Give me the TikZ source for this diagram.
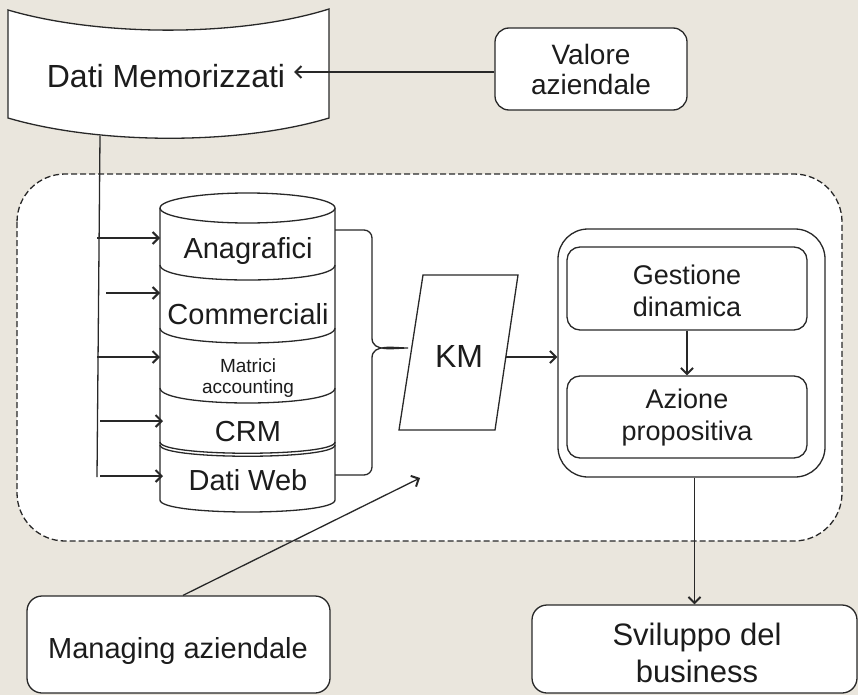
\documentclass[tikz,border=0pt]{standalone}
\usepackage{fontspec}
\setmainfont{Liberation Sans}
\usetikzlibrary{arrows.meta}
\definecolor{bg}{RGB}{234,230,221}
\definecolor{ln}{RGB}{40,40,40}
\definecolor{tx}{RGB}{28,28,28}
\begin{document}
\begin{tikzpicture}[x=1pt,y=-1pt,line width=1.3pt,
  lbl/.style={text=tx,inner sep=0pt,align=center,anchor=base},
  fA/.style={font=\fontsize{29}{33}\selectfont},
  fB/.style={font=\fontsize{32}{36}\selectfont},
  fC/.style={font=\fontsize{27}{32}\selectfont},
  fS/.style={font=\fontsize{19}{21}\selectfont},
  arr/.style={draw=ln,line width=1.3pt,-{Straight Barb[length=6pt,width=12pt,line width=2pt]}},
  shp/.style={draw=ln,fill=white,line width=1.3pt},
  rbox/.style={shp,rounded corners=14pt,inner sep=0pt}]
\path[fill=bg] (0,0) rectangle (858,695);
\useasboundingbox (0,0) rectangle (858,695);

% dashed region
\draw[draw=ln,fill=white,line width=1.3pt,dash pattern=on 6pt off 3pt,rounded corners=48pt] (17,174) rectangle (842,541);

% top storage shape
\draw[shp] (8,10) .. controls (100,37) and (240,37) .. (329,9) -- (329,118)
  .. controls (240,145) and (100,145) .. (8,118) -- cycle;
\node[lbl,fB] (dm) at (166,88) {Dati Memorizzati};
\coordinate (dmin) at (294,72);

% Valore aziendale
\node[rbox,minimum width=192pt,minimum height=82pt] (va) at (591,69) {};
\node[lbl,font=\fontsize{28}{30}\selectfont] (vat) at (591,95) {Valore\\aziendale};
\draw[arr] (va.west |- dmin) -- (dmin);

% stacked cylinder
\draw[shp] (160,208) -- (160,500) .. controls (160,516) and (335,516) .. (335,500) -- (335,208);
\draw[shp] (247.5,208) ellipse [x radius=87.5pt, y radius=15pt];
\foreach \yy in {265,328,388} {
  \draw[draw=ln] (160,\yy) .. controls (160,\yy+20) and (335,\yy+20) .. (335,\yy);
}
\draw[draw=ln] (160,442) .. controls (160,457) and (335,457) .. (335,442);
\draw[draw=ln] (160,445) .. controls (160,460) and (335,460) .. (335,445);
\node[lbl,fA] (ana) at (248,258) {Anagrafici};
\node[lbl,fA] (com) at (248,324) {Commerciali};
\node[lbl,fS] (mat) at (248,393) {Matrici\\accounting};
\node[lbl,fA] (crm) at (248,441) {CRM};
\node[lbl,fA] (web) at (248,490) {Dati Web};

% feeder line and arrows
\coordinate (vtop) at (100,136);
\coordinate (vbot) at (97,477);
\draw[draw=ln] (vtop) -- (vbot);
\coordinate (s1) at (97,238);  \coordinate (e1) at (160,238);
\coordinate (s2) at (106,293); \coordinate (e2) at (160,293);
\coordinate (s3) at (97,357);  \coordinate (e3) at (160,357);
\coordinate (s4) at (100,421); \coordinate (e4) at (163,421);
\coordinate (s5) at (100,476); \coordinate (e5) at (163,476);
\foreach \i in {1,...,5} { \draw[arr] (s\i) -- (e\i); }

% brace
\draw[draw=ln] (335,230) -- (364,230) to[out=0,in=90] (372,238) -- (372,338)
  to[out=-90,in=180] (408,348) to[out=180,in=90] (372,358) -- (372,467)
  to[out=-90,in=0] (364,475) -- (335,475);

% KM parallelogram
\draw[shp] (423,275) -- (518,275) -- (495,430) -- (399,430) -- cycle;
\node[lbl,fB] (km) at (459,367) {KM};
\coordinate (kmR) at (506,357);

% right block
\node[rbox,rounded corners=30pt,minimum width=267pt,minimum height=248pt] (ob) at (691.5,353) {};
\node[rbox,rounded corners=13pt,minimum width=240pt,minimum height=83pt] (gd) at (687,288.5) {};
\node[lbl,fC] (gdt) at (687,316) {Gestione\\dinamica};
\node[rbox,rounded corners=13pt,minimum width=240pt,minimum height=82pt] (ap) at (687,417) {};
\node[lbl,fC] (apt) at (687,440) {Azione\\propositiva};
\draw[arr] (kmR) -- (kmR -| ob.west);
\draw[arr] (gd.south) -- (ap.north);

% bottom boxes
\node[rbox,rounded corners=15pt,minimum width=303pt,minimum height=97pt] (mg) at (178.5,644.5) {};
\node[lbl,fA] (mgt) at (178,658) {Managing aziendale};
\node[rbox,rounded corners=15pt,minimum width=325pt,minimum height=88pt] (sv) at (694.5,649) {};
\node[lbl,font=\fontsize{31}{37}\selectfont] (svt) at (697,682) {Sviluppo del\\business};
\coordinate (mgend) at (420,478);
\draw[arr] ([xshift=4.5pt]mg.north) -- (mgend);
\draw[arr] (sv.north |- ob.south) -- (sv.north);
\end{tikzpicture}
\end{document}
